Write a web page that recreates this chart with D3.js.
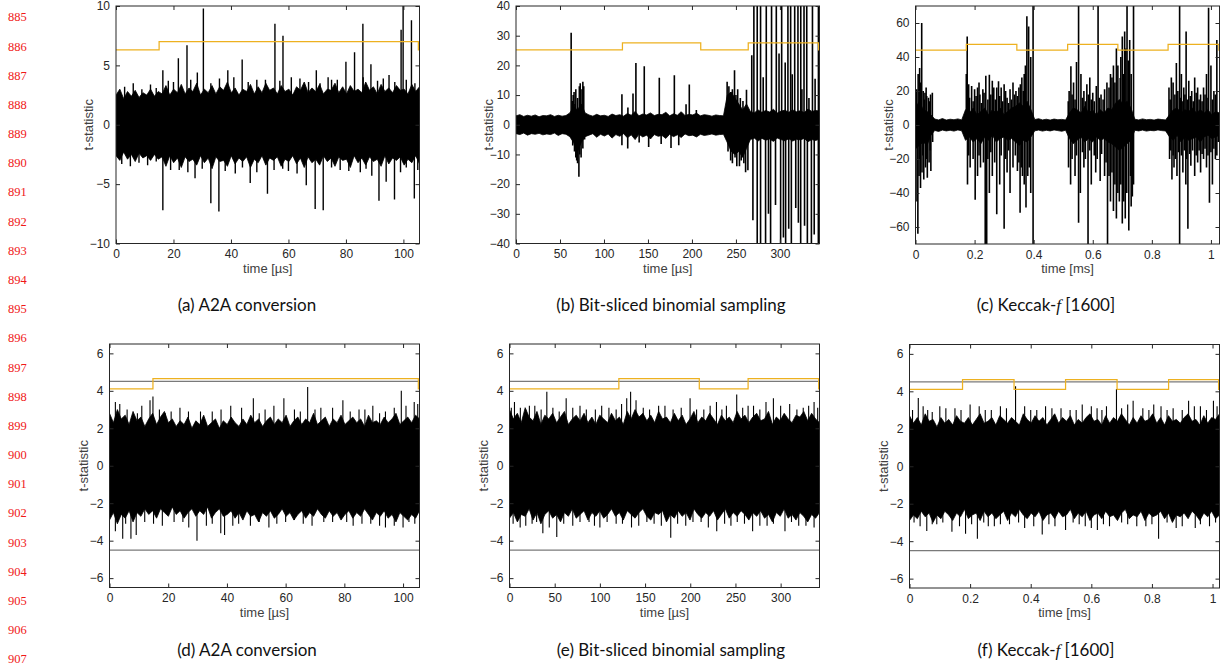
<!DOCTYPE html>
<html>
<head>
<meta charset="utf-8">
<script src="https://cdn.jsdelivr.net/npm/d3@7"></script>
<style>
  body { margin: 0; background: #fff; }
  svg { display: block; }
  .tick text { font-family: "Liberation Sans", Arial, sans-serif; font-size: 12px; fill: #262626; }
  .tick line { stroke: #262626; }
  .domain { display: none; }
  .atitle { font-family: "Liberation Sans", Arial, sans-serif; font-size: 13px; fill: #404040; }
  .caption { font-family: Lato, "Open Sans", sans-serif; font-size: 17px; fill: #111; }
  .lineno { font-family: "Liberation Serif", serif; font-size: 12.5px; fill: #f01818; }
</style>
</head>
<body>
<svg id="canvas" width="1222" height="666"></svg>
<script>
// manuscript line numbers in the margin
let lineNumbers = d3.range(885, 908);

// (a) A2A conversion, first order
let aXTicks = [0, 20, 40, 60, 80, 100];
let aYTicks = [-10, -5, 0, 5, 10];
let aHi = [2.5,3.0,2.2,2.8,2.4,2.9,2.3,2.7,2.5,3.0,2.4,2.8,
  2.6,3.3,2.5,3.0,2.7,3.4,2.6,3.1,2.8,3.5, 2.5,3.0,2.7,3.3,2.6,3.2,2.9,3.6,2.7,3.1,
  2.5,3.0,2.8,3.4,2.6,3.2,2.7,3.5,2.9,3.1, 2.6,3.3,2.8,3.0,2.5,3.2,2.9,3.6,2.7,3.1,
  2.8,3.4,2.6,3.0,2.9,3.5,2.7,3.2,2.6,3.3, 2.8,3.0,2.7,3.6,2.9,3.2,2.6,3.4,2.8,3.1,
  2.7,3.3,2.9,3.0,2.6,3.4,2.8,3.2];
let aLo = [-2.6,-3.0,-2.3,-2.9,-2.5,-3.1,-2.4,-2.8,-2.6,-3.0,-2.5,-2.9,
  -2.7,-3.5,-2.6,-3.2,-2.8,-3.6,-2.7,-3.1,-2.9,-3.4, -2.6,-3.2,-2.8,-3.7,-2.7,-3.1,-3.0,-3.5,-2.6,-3.3,
  -2.8,-3.1,-2.7,-3.6,-2.9,-3.2,-2.6,-3.4,-2.8,-3.0, -2.7,-3.5,-2.9,-3.1,-2.6,-3.3,-2.8,-3.6,-2.7,-3.2,
  -2.9,-3.4,-2.6,-3.1,-2.8,-3.5,-2.7,-3.0,-2.9,-3.6, -2.6,-3.2,-2.8,-3.4,-2.7,-3.1,-2.9,-3.5,-2.6,-3.3,
  -2.8,-3.0,-2.7,-3.4,-2.9,-3.2,-2.6,-3.3];
let aSpikes = [[16.3,4.6],[18.2,3.7],[21.7,5.6],[24.7,6.7],[28.3,4.4],[30.4,9.8],[38.9,4.6],[41,4.0],
  [43.9,5.5],[49,3.8],[55.3,8.5],[58.1,7.5],[61,4.0],[69.7,4.6],[73.8,4.0],[77,3.8],[80,5.3],[83,6.1],
  [85.9,8.5],[88.7,5.1],[95,4.2],[99.2,8.0],[99.9,10],[102.8,8.8],
  [3,3.2],[6,3.5],[9,3.0],[12,3.4],[14,3.1],[20,3.6],[26,3.8],[33,3.5],[36,3.9],[46,3.6],[52,3.8],
  [57,3.7],[64,3.9],[67,3.6],[71,3.5],[75,3.8],[86,4.0],[91,3.7],[93,3.9],[97,3.6],[101,3.8],[104,3.5],
  [16.3,-7.2],[19,-3.8],[27.5,-4.5],[33,-6.6],[35.8,-7.3],[41.5,-4.1],[46.7,-4.9],[52.7,-5.8],
  [60,-3.9],[66.2,-5.1],[69.3,-7.1],[72.1,-7.2],[78,-3.8],[85,-4.0],[89,-4.3],[91.5,-6.4],
  [94,-4.8],[96.9,-6.3],[103.8,-6.2],
  [2,-3.3],[5,-3.5],[8,-3.2],[11,-3.4],[14,-3.1],[22,-3.8],[25,-4.0],[30,-3.7],[38,-3.9],[44,-3.6],
  [49,-4.0],[55,-3.8],[58,-3.7],[63,-4.1],[75,-3.6],[81,-3.9],[87,-3.7],[99,-4.0],[101,-3.6],[105,-3.8]];
let aStep = [[0,6.3],[15,7.0],[105.2,6.3],[105.6,6.3]];

// (b) bit-sliced binomial sampling, first order
let bXTicks = [0, 50, 100, 150, 200, 250, 300];
let bYTicks = [-40, -30, -20, -10, 0, 10, 20, 30, 40];
let bHi = [3.0,3.4,2.8,3.2,2.9,3.3,2.7,3.1,3.0,3.4,2.8,3.2,2.9,3.1,
  4.0,6.0,5.0,7.0,4.0,
  3.3,2.9,3.5,3.0,3.2,2.8,3.6,3.1,3.4,2.9, 3.8,3.2,4.5,3.0,3.6,3.3,4.0,3.1,3.5,3.4,
  4.2,3.0,3.7,3.2,4.4,3.1,3.5,3.3,3.9,3.0, 3.4,3.2,2.9,3.3,3.1,3.0,
  10.0,11.0,9.0,7.0,5.0,7.0,
  4.5,4.0,5.0,4.2,4.8,4.3,5.2,4.0,4.6,4.9, 4.2,5.0,4.4,4.7,4.1,5.3,4.5,4.8,4.6];
let bLo = [-3.0,-3.3,-2.8,-3.5,-3.0,-3.2,-2.9,-3.4,-3.1,-3.3,-2.8,-3.6,-3.0,-3.2,
  -4.0,-6.0,-9.0,-6.0,-4.0,
  -3.5,-3.0,-4.2,-3.2,-3.8,-3.1,-4.5,-3.3,-3.9,-3.0, -4.4,-3.4,-5.0,-3.2,-4.1,-3.5,-4.8,-3.3,-3.9,-3.6,
  -4.6,-3.2,-4.0,-3.4,-4.3,-3.1,-3.7,-3.5,-4.1,-3.2, -3.6,-3.4,-3.1,-3.5,-3.3,-3.2,
  -6.0,-9.0,-10.0,-9.0,-11.0,-8.0,
  -5.0,-4.5,-5.5,-4.6,-5.2,-4.8,-5.6,-4.5,-5.0,-5.4, -4.7,-5.5,-4.9,-5.1,-4.6,-5.7,-5.0,-5.3,-4.8];
let bSpikes = [[62.7,31],[64,8],[65,10],[66,11],[67,7],[68,12],[70,9],[72,13],[73,14],[75,12],[76,14.5],[77,13],
  [64.5,-7],[66.5,-9],[68,-11],[69,-12],[70,-13],[71.5,-17.5],[72.5,-10],[74,-11],[76,-8],[78,-5],
  [120.4,10.3],[127.2,5.8],[133,10.5],[136.3,20.8],[145.8,19.7],[162.9,15.8],[180,16.7],[193.3,6.9],
  [197,13.6],[205,5],[120.4,-6.9],[127,-8],[140,-6],[150.8,-7.5],[165,-6.5],[176.2,-7.8],[185,-6.9],
  [240,14.5],[242,13],[244,11],[246,12],[248.4,18.4],[250,10],[252,12],[255,9],[258,8],[262,11.8],
  [241,-9],[244,-12],[246,-13],[249,-11],[251,-14],[254,-14],[256,-12],[259,-13],[261,-16],[263.6,-15.3],
  [268,23.4],[270.4,45],[274.2,45],[278,45],[281,16],[284.5,45],[290.5,45],[295.9,45],[299,24],
  [302,45],[306,21],[309.1,45],[312.2,45],[314,17],[316.8,45],[320.5,45],[323.7,45],[325,12],
  [327.4,45],[330.5,45],[333,9],[337,45],[340,15.5],[343.8,45],
  [269.3,-32.2],[274.2,-45],[278,-45],[283.7,-45],[287,-30],[289.4,-45],[295,-27],[300.8,-45],
  [304,-38],[306.5,-45],[310,-35],[313,-45],[318,-28],[321,-33],[323.6,-45],[328,-34],[331.2,-45],
  [335.8,-45],[339,-37],[343.7,-45]];
let bStep = [[0,25.2],[121,27.6],[210,25.2],[264,27.6],[344,25.2],[345,25.2]];

// (c) Keccak-f[1600], first order
let cXTicks = [0, 0.2, 0.4, 0.6, 0.8, 1];
let cYTicks = [-60, -40, -20, 0, 20, 40, 60];
let cHi = [10,14,9,8,6,
  3.5,3.0,3.8,2.9,3.4,3.1,3.6,3.0,
  9,7,10,6,8,10,6,9,7,10,6,8,10,11,13,11,14,9,
  3.2,3.7,3.0,3.4,2.9,3.5,3.1,3.3,3.0,
  7,10,9,7,11,7,9,6,9,7,10,9,13,15,12,14,10,
  3.4,3.0,3.6,3.1,3.3,2.9,3.5,3.2,3.0,
  6,9,10,7,9,8,10,7,9,7,9,6,8,7];
let cLo = [-14,-12,-10,-12,-6,
  -3.2,-3.8,-3.0,-3.5,-3.1,-3.6,-2.9,-3.4,
  -9,-7,-10,-8,-11,-7,-9,-6,-10,-8,-7,-9,-8,-10,-12,-9,-10,-7,
  -3.4,-3.0,-3.6,-3.1,-3.5,-2.9,-3.3,-3.7,-3.1,
  -8,-11,-9,-7,-10,-8,-10,-7,-9,-8,-10,-11,-13,-15,-13,-11,-9,
  -3.1,-3.5,-3.0,-3.6,-3.2,-3.4,-2.9,-3.3,-3.5,
  -7,-9,-6,-10,-7,-9,-8,-7,-10,-7,-6,-8,-7,-6];
let cSpikes = [[0.004,21],[0.009,30],[0.014,33.6],[0.021,60],[0.026,20],[0.032,19],[0.038,17],[0.044,16],
  [0.051,18],[0.057,19],[0.002,12],[0.016,25],[0.03,15],[0.036,22],[0.048,14],
  [0.005,-45],[0.008,-64],[0.012,-30],[0.017,-37],[0.022,-28],[0.028,-32],
  [0.034,-25],[0.04,-31],[0.046,-22],[0.052,-27],[0.058,-10],[0.015,-20],[0.025,-18],[0.037,-20],[0.05,-15],
  [0.175,52],[0.18,24],[0.19,23],[0.2,21],[0.21,22],[0.218,18],[0.228,21],[0.238,29],[0.25,29.6],
  [0.26,26],[0.265,22],[0.275,22],[0.281,25.7],[0.29,22],[0.3,24],[0.31,16],[0.32,21],[0.33,25],
  [0.34,20],[0.35,22],[0.36,28],[0.368,30],[0.377,64],[0.383,58],[0.398,72],
  [0.172,30],[0.183,16],[0.195,14],[0.205,17],[0.215,25],[0.223,13],[0.232,19],[0.245,15],[0.255,18],
  [0.27,15],[0.285,17],[0.295,14],[0.305,20],[0.315,13],[0.325,15],[0.335,18],[0.345,17],[0.355,24],
  [0.365,20],[0.372,35],[0.39,40],
  [0.176,-35],[0.185,-25],[0.202,-44],[0.21,-30],[0.22,-25],[0.236,-72],[0.241,-72],[0.25,-40],
  [0.26,-30],[0.275,-52.5],[0.285,-35],[0.3,-61],[0.31,-28],[0.32,-40],[0.33,-25],[0.345,-27],
  [0.354,-51.6],[0.362,-30],[0.374,-48.6],[0.385,-25],[0.398,-72],
  [0.18,-18],[0.195,-20],[0.215,-18],[0.23,-22],[0.245,-20],[0.255,-16],[0.268,-22],[0.29,-18],
  [0.305,-20],[0.315,-15],[0.338,-18],[0.35,-22],[0.358,-25],[0.368,-35],[0.38,-30],[0.39,-40],
  [0.52,20],[0.526,34.5],[0.535,25],[0.545,37],[0.552,72],[0.56,30],[0.57,20],[0.58,24],[0.59,28],
  [0.6,19],[0.612,23],[0.618,72],[0.628,18],[0.64,21],[0.648,25],[0.66,30],[0.67,35],[0.68,45],
  [0.693,27.7],[0.7,52],[0.708,55],[0.716,72],[0.725,50],[0.738,72],
  [0.517,14],[0.53,18],[0.54,15],[0.565,16],[0.575,14],[0.585,18],[0.595,15],[0.605,14],[0.622,16],
  [0.635,15],[0.655,22],[0.665,28],[0.675,25],[0.685,35],[0.695,40],[0.705,30],[0.712,45],[0.72,38],[0.73,30],
  [0.518,-25],[0.525,-35],[0.54,-30],[0.552,-57.5],[0.558,-40],[0.57,-25],[0.584,-72],[0.595,-35],
  [0.61,-28],[0.625,-33],[0.64,-30],[0.65,-72],[0.66,-45],[0.67,-50.6],[0.68,-55],[0.69,-45],
  [0.7,-58],[0.71,-55],[0.722,-62],[0.73,-48],[0.738,-35],
  [0.53,-20],[0.545,-18],[0.565,-16],[0.575,-20],[0.59,-15],[0.605,-18],[0.615,-20],[0.63,-17],
  [0.645,-22],[0.655,-30],[0.665,-28],[0.675,-35],[0.685,-40],[0.695,-35],[0.705,-45],[0.715,-40],
  [0.728,-30],[0.734,-42],
  [0.858,22],[0.866,28],[0.872,25],[0.883,36.5],[0.894,72],[0.9,30],[0.908,22],[0.916,55],[0.925,26],
  [0.935,20],[0.945,28],[0.955,22],[0.965,18],[0.975,22],[0.985,30],[0.992,69],[1.0,35],[1.01,20],[1.02,50],
  [0.862,15],[0.878,18],[0.888,20],[0.897,16],[0.905,14],[0.912,18],[0.92,15],[0.93,17],[0.94,14],
  [0.95,19],[0.96,15],[0.97,14],[0.98,18],[0.99,16],[1.005,15],[1.015,18],
  [0.86,-20],[0.868,-32],[0.875,-25],[0.885,-30],[0.894,-72],[0.905,-28],[0.915,-35],[0.922,-61],
  [0.932,-24],[0.945,-30],[0.955,-22],[0.965,-28],[0.975,-20],[0.985,-25],[0.995,-45.7],[1.005,-35],
  [1.015,-20],[1.025,-10],
  [0.864,-15],[0.872,-18],[0.88,-20],[0.89,-16],[0.9,-18],[0.91,-15],[0.918,-20],[0.928,-17],
  [0.938,-15],[0.95,-18],[0.96,-15],[0.97,-17],[0.98,-14],[0.99,-18],[1.0,-16],[1.01,-14],[1.02,-18]];
let cStep = [[0,44],[0.172,47.5],[0.343,44],[0.515,47.5],[0.685,44],[0.855,47.5],[1.027,44],[1.03,44]];

// second-order rows share the y ticks and the +-4.5 threshold
let lowYTicks = [-6, -4, -2, 0, 2, 4, 6];
let threshold = [4.5, -4.5];

// (d) A2A conversion
let dHi = [2.8,2.3,3.0,2.5,2.7,2.2,2.9,2.4,2.6,2.1, 2.5,2.8,2.2,2.6,2.9,2.3,2.5,2.1,2.4,2.2,
  2.6,2.0,2.4,2.2,2.7,2.1,2.3,2.5,2.0,2.4, 2.2,2.6,2.3,2.1,2.5,2.2,2.7,2.3,2.5,2.1,
  2.4,2.6,2.2,2.5,2.3,2.7,2.1,2.4,2.6,2.2, 2.5,2.3,2.8,2.2,2.4,2.6,2.1,2.5,2.3,2.7,
  2.2,2.4,2.6,2.3,2.5,2.1,2.7,2.3,2.4,2.2, 2.6,2.3,2.5,2.8,2.2,2.4,2.6,2.3,2.7,2.5];
let dLo = [-2.9,-2.5,-3.1,-2.6,-2.8,-2.4,-3.0,-2.5,-2.7,-2.3, -2.6,-2.4,-2.8,-2.3,-2.5,-2.7,-2.2,-2.6,-2.4,-2.8,
  -2.5,-2.3,-2.7,-2.4,-2.6,-2.2,-2.8,-2.5,-2.3,-2.7, -2.6,-2.4,-2.8,-2.5,-2.9,-2.4,-2.7,-2.6,-3.0,-2.5,
  -2.7,-2.4,-2.8,-2.6,-2.3,-2.7,-2.5,-2.9,-2.6,-2.4, -2.8,-2.5,-2.7,-2.3,-2.6,-2.8,-2.4,-2.7,-2.5,-2.9,
  -2.6,-2.4,-2.8,-2.5,-2.7,-2.3,-2.6,-2.9,-2.5,-2.7, -2.4,-2.8,-2.6,-3.0,-2.5,-2.7,-2.9,-2.6,-2.8,-2.4];
let dSpikes = [[2,3.4],[3.5,3.3],[13.8,3.5],[14.8,3.7],[21,2.9],[26.9,2.9],[35,2.9],[41.3,3.2],[49,3.6],
  [53,3.0],[59.4,3.6],[63,3.0],[67.5,4.2],[72,3.1],[79.5,3.5],[85,3.0],[89.7,3.2],[94,2.9],[99.4,4.0],
  [103.8,3.4],[6,3.0],[9.5,2.8],[11,3.2],[17,3.0],[19,2.8],[24,3.1],[31,2.9],[38,3.0],[45,3.1],[51,2.8],
  [56,3.2],[65,2.9],[70,3.0],[76,3.1],[82,2.9],[87,3.0],[92,2.8],[97,3.1],[101,3.2],[105,3.3],
  [2,-3.5],[4.5,-3.9],[7.3,-3.9],[9.1,-3.7],[15,-3.1],[22,-3.0],[29.8,-4.0],[33,-3.2],
  [37.9,-3.6],[39.2,-3.7],[44,-3.1],[48,-3.2],[54.3,-3.3],[60,-3.0],[66,-3.1],[73,-3.0],[80.8,-3.0],
  [86,-3.1],[92,-3.2],[97,-3.2],[100,-3.3],[104,-3.1],
  [5.5,-3.1],[12,-3.0],[18,-3.2],[25,-3.0],[27,-3.3],[35,-3.1],[42,-3.2],[51,-3.0],[57,-3.1],[63,-2.9],
  [69,-3.2],[76,-3.0],[83,-3.2],[89,-3.1],[94,-3.3],[102,-3.0]];
let dStep = [[0,4.1],[14.8,4.65],[105.2,4.1],[105.6,4.1]];

// (e) bit-sliced binomial sampling
let eHi = [3.0,2.5,2.8,2.3,3.1,2.6,2.4,2.9,2.2,2.7, 2.5,2.8,2.3,2.6,2.9,2.2,2.5,2.7,2.4,2.8,
  2.3,2.6,2.2,2.7,2.5,2.3,2.8,2.4,2.6,2.2, 2.9,2.5,3.0,2.6,2.8,2.4,2.7,2.3,2.9,2.5,
  2.6,2.3,2.8,2.4,2.7,2.2,2.5,2.9,2.3,2.6, 2.4,2.8,2.5,2.2,2.7,2.4,2.6,2.3,2.9,2.5,
  2.7,2.3,2.6,2.8,2.4,2.5,2.9,2.2,2.6,2.4, 2.8,2.5,2.3,2.7,2.6,2.9,2.4,2.8,2.5,2.3];
let eLo = [-2.8,-2.5,-3.0,-2.6,-2.7,-2.3,-2.9,-2.5,-3.1,-2.6, -2.4,-2.8,-2.6,-3.0,-2.5,-2.7,-2.3,-2.8,-2.6,-2.4,
  -2.9,-2.5,-2.7,-2.4,-2.8,-2.6,-2.3,-2.7,-2.5,-2.9, -2.4,-2.6,-2.8,-2.5,-2.3,-2.7,-2.9,-2.5,-2.6,-2.4,
  -3.0,-2.6,-2.8,-2.4,-2.7,-2.5,-2.9,-2.3,-2.6,-2.8, -2.5,-2.7,-2.4,-2.9,-2.6,-2.3,-2.8,-2.5,-2.7,-2.4,
  -2.6,-2.9,-2.5,-2.7,-2.4,-2.8,-2.6,-3.0,-2.5,-2.7, -2.3,-2.8,-2.6,-2.9,-2.5,-2.7,-3.0,-2.6,-2.8,-2.5];
let eSpikes = [[5.5,3.4],[12,3.1],[28,3.2],[41.3,3.95],[62.7,3.6],[78,3.2],[95,3.0],[110,3.1],[129.7,3.6],
  [134,3.95],[140,3.5],[165,3.2],[181,3.0],[199.8,3.6],[215,3.0],[229,3.4],[240,3.2],[251.4,3.8],
  [270,3.2],[283.8,3.4],[292,3.6],[310,3.3],[325,3.1],[337,3.4],
  [2,3.1],[18,3.0],[22,3.2],[35,3.0],[48,3.1],[55,2.9],[70,3.1],[85,3.0],[102,3.2],[118,3.0],[124,3.3],
  [148,3.1],[155,3.0],[172,3.2],[190,3.1],[207,3.0],[222,3.2],[235,3.0],[258,3.1],[264,3.2],[277,3.0],
  [300,3.2],[318,3.0],[331,3.2],[341,3.1],
  [11.8,-3.3],[25,-3.1],[36.9,-3.6],[52.3,-3.8],[70,-3.2],[88,-3.0],[100,-3.3],[118,-3.1],[143,-3.2],
  [160,-3.1],[178.4,-3.85],[195,-3.2],[212,-3.0],[229.3,-3.5],[245,-3.2],[260,-3.1],[269,-3.5],
  [285,-3.2],[304.8,-3.5],[320,-3.2],[337,-3.3],
  [4,-3.1],[18,-3.2],[30,-3.0],[44,-3.3],[60,-3.1],[78,-3.0],[94,-3.2],[108,-3.0],[125,-3.1],[135,-3.3],
  [152,-3.0],[168,-3.2],[186,-3.1],[203,-3.0],[220,-3.3],[238,-3.1],[252,-3.0],[277,-3.2],[292,-3.1],
  [312,-3.0],[328,-3.2]];
let eStep = [[0,4.1],[121,4.65],[210,4.1],[264,4.65],[342,4.1],[343,4.1]];

// (f) Keccak-f[1600]
let fHi = [2.7,2.3,2.6,2.2,2.8,2.4,2.5,2.1,2.6,2.3, 2.5,2.2,2.7,2.4,2.3,2.6,2.2,2.5,2.8,2.3,
  2.4,2.6,2.2,2.7,2.5,2.3,2.6,2.4,2.2,2.8, 2.5,2.3,2.7,2.4,2.6,2.2,2.5,2.8,2.3,2.6,
  2.4,2.7,2.2,2.5,2.3,2.6,2.8,2.4,2.5,2.2, 2.7,2.3,2.6,2.4,2.8,2.5,2.2,2.6,2.3,2.7,
  2.4,2.5,2.8,2.3,2.6,2.2,2.7,2.4,2.5,2.3, 2.6,2.8,2.4,2.5,2.2,2.7,2.3,2.6,2.5,2.8];
let fLo = [-2.9,-2.6,-2.8,-2.4,-2.7,-2.5,-3.0,-2.6,-2.8,-2.4, -2.6,-2.9,-2.5,-2.7,-2.3,-2.8,-2.6,-2.5,-2.9,-2.4,
  -2.7,-2.5,-2.8,-2.6,-2.4,-2.9,-2.5,-2.7,-2.3,-2.6, -2.8,-2.5,-2.7,-2.4,-2.9,-2.6,-2.5,-2.8,-2.4,-2.7,
  -2.6,-2.3,-2.8,-2.5,-2.7,-2.4,-2.9,-2.6,-2.5,-2.8, -2.4,-2.7,-2.6,-2.9,-2.5,-2.3,-2.8,-2.6,-2.7,-2.4,
  -2.9,-2.5,-2.7,-2.6,-2.4,-2.8,-2.5,-3.0,-2.6,-2.7, -2.5,-2.8,-2.4,-2.6,-2.9,-2.5,-2.7,-2.4,-2.8,-2.6];
let fSpikes = [[0.029,3.65],[0.06,3.0],[0.1,3.2],[0.15,3.1],[0.2,3.3],[0.25,3.0],[0.3,3.2],[0.35,4.27],
  [0.4,3.0],[0.449,3.2],[0.5,3.1],[0.53,3.0],[0.57,3.3],[0.619,3.1],[0.65,3.2],[0.683,4.13],[0.738,3.5],
  [0.77,3.1],[0.806,3.3],[0.85,3.0],[0.921,3.5],[0.96,3.2],[1.003,3.5],
  [0.01,3.0],[0.045,3.2],[0.075,2.9],[0.12,3.1],[0.17,3.0],[0.23,3.2],[0.27,3.0],[0.32,3.1],[0.38,3.2],
  [0.42,3.0],[0.47,3.1],[0.55,3.0],[0.6,3.2],[0.635,3.0],[0.7,3.1],[0.72,3.3],[0.79,3.0],[0.83,3.2],
  [0.87,3.1],[0.9,3.0],[0.94,3.2],[0.98,3.0],[1.015,3.2],
  [0.057,-3.46],[0.09,-3.1],[0.14,-3.5],[0.185,-3.6],[0.224,-3.87],[0.26,-3.2],[0.3,-3.1],[0.38,-3.3],
  [0.438,-3.64],[0.48,-3.2],[0.515,-3.4],[0.56,-3.1],[0.6,-3.3],[0.62,-3.4],[0.66,-3.2],[0.72,-3.1],
  [0.78,-3.2],[0.822,-3.87],[0.88,-3.3],[0.943,-3.3],[0.99,-3.2],
  [0.015,-3.0],[0.035,-3.2],[0.075,-3.1],[0.11,-3.0],[0.165,-3.2],[0.205,-3.1],[0.245,-3.0],[0.28,-3.2],
  [0.33,-3.1],[0.36,-3.0],[0.41,-3.2],[0.46,-3.1],[0.54,-3.0],[0.58,-3.2],[0.64,-3.1],[0.7,-3.0],
  [0.75,-3.2],[0.8,-3.1],[0.85,-3.0],[0.9,-3.2],[0.96,-3.1],[1.01,-3.0]];
let fStep = [[0,4.1],[0.175,4.62],[0.345,4.1],[0.515,4.62],[0.685,4.1],[0.855,4.62],[1.02,4.1],[1.023,4.1]];

let captions = [
  ["(a) A2A conversion"], ["(b) Bit-sliced binomial sampling"], ["(c) Keccak-", "f", " [1600]"],
  ["(d) A2A conversion"], ["(e) Bit-sliced binomial sampling"], ["(f) Keccak-", "f", " [1600]"]
];

const svg = d3.select("#canvas");
const orange = "#edb120";

// panel table: data + where it sits on the page
let panels = [
  { id: "a", hi: aHi, lo: aLo, spikes: aSpikes, step: aStep, xmax: 105.6, ydom: [-10, 10], xt: aXTicks, yt: aYTicks,
    unit: "µs", left: 116, right: 419.5, top: 6, bottom: 243.5, ylab: 88, cap: [247, 305], sw: 1.4 },
  { id: "b", hi: bHi, lo: bLo, spikes: bSpikes, step: bStep, xmax: 345, ydom: [-40, 40], xt: bXTicks, yt: bYTicks,
    unit: "µs", left: 516, right: 819.5, top: 6, bottom: 243.5, ylab: 488, cap: [671, 305], sw: 1.6 },
  { id: "c", hi: cHi, lo: cLo, spikes: cSpikes, step: cStep, xmax: 1.029, ydom: [-70, 70], xt: cXTicks, yt: cYTicks,
    unit: "ms", left: 915.5, right: 1219.5, top: 6, bottom: 244, ylab: 888, cap: [1046, 305], sw: 1.6 },
  { id: "d", hi: dHi, lo: dLo, spikes: dSpikes, step: dStep, xmax: 105.6, ydom: [-6.5, 6.5], xt: aXTicks, yt: lowYTicks,
    unit: "µs", left: 109.5, right: 419.5, top: 344, bottom: 587.5, ylab: 83, cap: [247, 650], thr: threshold, sw: 1.1 },
  { id: "e", hi: eHi, lo: eLo, spikes: eSpikes, step: eStep, xmax: 343, ydom: [-6.5, 6.5], xt: bXTicks, yt: lowYTicks,
    unit: "µs", left: 509.5, right: 819.5, top: 344, bottom: 587.5, ylab: 483, cap: [671, 650], thr: threshold, sw: 1.1 },
  { id: "f", hi: fHi, lo: fLo, spikes: fSpikes, step: fStep, xmax: 1.023, ydom: [-6.5, 6.5], xt: cXTicks, yt: lowYTicks,
    unit: "ms", left: 909.5, right: 1219.5, top: 344.5, bottom: 588, ylab: 883, cap: [1046, 650], thr: threshold, sw: 1.1 }
];

const drawPanel = (p, k) => {
  let x = d3.scaleLinear().domain([0, p.xmax]).range([p.left, p.right]);
  let y = d3.scaleLinear().domain(p.ydom).range([p.bottom, p.top]);
  let g = svg.append("g");

  svg.append("clipPath").attr("id", "clip-" + p.id)
    .append("rect").attr("x", p.left).attr("y", p.top)
    .attr("width", p.right - p.left).attr("height", p.bottom - p.top);

  let plot = g.append("g").attr("clip-path", `url(#clip-${p.id})`);

  // dense noise: envelope band
  let n = p.hi.length;
  let band = d3.area()
    .x((d, i) => x(i * p.xmax / (n - 1)))
    .y0((d, i) => y(p.lo[i]))
    .y1((d) => y(d));
  plot.append("path").datum(p.hi)
    .attr("d", band).attr("fill", "#000").attr("stroke", "#000").attr("stroke-width", 0.8);

  // individual peaks
  plot.selectAll("line.spike").data(p.spikes).enter().append("line")
    .attr("class", "spike")
    .attr("x1", d => x(d[0])).attr("x2", d => x(d[0]))
    .attr("y1", y(0)).attr("y2", d => y(d[1]))
    .attr("stroke", "#000").attr("stroke-width", p.sw);

  // +-4.5 threshold
  if (p.thr) {
    plot.selectAll("line.thr").data(p.thr).enter().append("line")
      .attr("class", "thr")
      .attr("x1", p.left).attr("x2", p.right)
      .attr("y1", d => y(d)).attr("y2", d => y(d))
      .attr("stroke", "#7a7a7a").attr("stroke-width", 1.2);
  }

  // orange step line
  let stepLine = d3.line().curve(d3.curveStepAfter).x(d => x(d[0])).y(d => y(d[1]));
  plot.append("path").datum(p.step)
    .attr("d", stepLine).attr("fill", "none").attr("stroke", orange).attr("stroke-width", 1.25);

  // axes with inward ticks on all four sides
  let fmt = d => d3.format("~g")(d);
  g.append("g").attr("transform", `translate(0,${p.bottom})`)
    .call(d3.axisBottom(x).tickValues(p.xt).tickSizeInner(-4).tickSizeOuter(0).tickPadding(6).tickFormat(fmt));
  g.append("g").attr("transform", `translate(0,${p.top})`)
    .call(d3.axisTop(x).tickValues(p.xt).tickSizeInner(-4).tickSizeOuter(0).tickFormat(""));
  g.append("g").attr("transform", `translate(${p.left},0)`)
    .call(d3.axisLeft(y).tickValues(p.yt).tickSizeInner(-4).tickSizeOuter(0).tickPadding(6).tickFormat(fmt));
  g.append("g").attr("transform", `translate(${p.right},0)`)
    .call(d3.axisRight(y).tickValues(p.yt).tickSizeInner(-4).tickSizeOuter(0).tickFormat(""));

  g.append("rect")
    .attr("x", p.left).attr("y", p.top)
    .attr("width", p.right - p.left).attr("height", p.bottom - p.top)
    .attr("fill", "none").attr("stroke", "#262626").attr("stroke-width", 1);

  g.append("text").attr("class", "atitle")
    .attr("x", (p.left + p.right) / 2).attr("y", p.bottom + 29)
    .attr("text-anchor", "middle")
    .text(`time [${p.unit}]`);

  g.append("text").attr("class", "atitle")
    .attr("transform", `translate(${p.ylab},${(p.top + p.bottom) / 2}) rotate(-90)`)
    .attr("text-anchor", "middle").attr("dy", "0.35em")
    .text("t-statistic");

  let cap = g.append("text").attr("class", "caption")
    .attr("x", p.cap[0]).attr("y", p.cap[1]).attr("dy", "0.35em")
    .attr("text-anchor", "middle");
  captions[k].forEach((part, j) => {
    let t = cap.append("tspan").text(part);
    if (j === 1) t.attr("font-family", "Liberation Serif, serif").attr("font-style", "italic");
  });
};

panels.forEach(drawPanel);

svg.selectAll("text.lineno").data(lineNumbers).enter().append("text")
  .attr("class", "lineno")
  .attr("x", 8)
  .attr("y", (d, i) => 17 + i * 29.18)
  .attr("dy", "0.35em")
  .text(d => d);
</script>
</body>
</html>
